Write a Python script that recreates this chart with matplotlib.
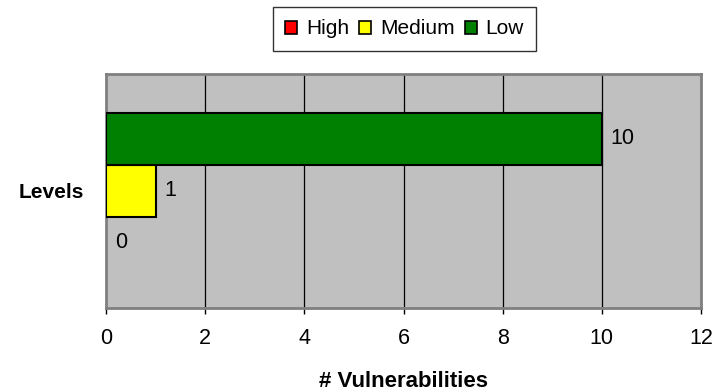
import matplotlib.pyplot as plt
from matplotlib.patches import Patch

levels = ["High", "Medium", "Low"]
counts = [0, 1, 10]
colors = ["#FF0000", "#FFFF00", "#008000"]

plt.rcParams['font.family'] = ['Liberation Sans', 'DejaVu Sans']

fig = plt.figure(figsize=(7.15, 3.92), dpi=100)
ax = fig.add_axes([106 / 715, 1 - 308 / 392, 595 / 715, 234 / 392])
ax.set_facecolor("#C0C0C0")

# bar slots, High at the bottom
h = 52 / 234
pos = [0.5 - h, 0.5, 0.5 + h]
for p, c, col in zip(pos, counts, colors):
    ax.barh(p, c, height=h, color=col, edgecolor="black",
            linewidth=1.5 if c > 0 else 0, zorder=3)
    ax.text(c + 0.18, p, str(c), va="center", ha="left", fontsize=15.5, zorder=4)

ax.set_xlim(0, 12)
ax.set_ylim(0, 1)
ax.set_xticks(range(0, 13, 2))
ax.set_yticks([0.5])
ax.set_yticklabels(["Levels"], fontweight="bold", fontsize=15)
ax.tick_params(axis="y", length=0, pad=16)
ax.tick_params(axis="x", labelsize=15.5, length=4.5, width=1, direction="out",
               color="black", pad=10)
ax.grid(axis="x", color="black", linewidth=0.9, zorder=1)
for s in ax.spines.values():
    s.set_color("#808080")
    s.set_linewidth(2)

ax.set_xlabel("# Vulnerabilities", fontweight="bold", fontsize=16, labelpad=16)

handles = [Patch(facecolor=col, edgecolor="black", linewidth=1.2, label=l)
           for l, col in zip(levels, colors)]
fig.legend(handles=handles, loc="upper center", bbox_to_anchor=(404.5 / 715, 1 - 7 / 392),
           ncol=3, frameon=True, fancybox=False, edgecolor="black", fontsize=15,
           handlelength=0.58, handleheight=0.58, handletextpad=0.4, columnspacing=0.5,
           borderpad=0.6, borderaxespad=0)

fig.savefig("out.png", dpi=100)
